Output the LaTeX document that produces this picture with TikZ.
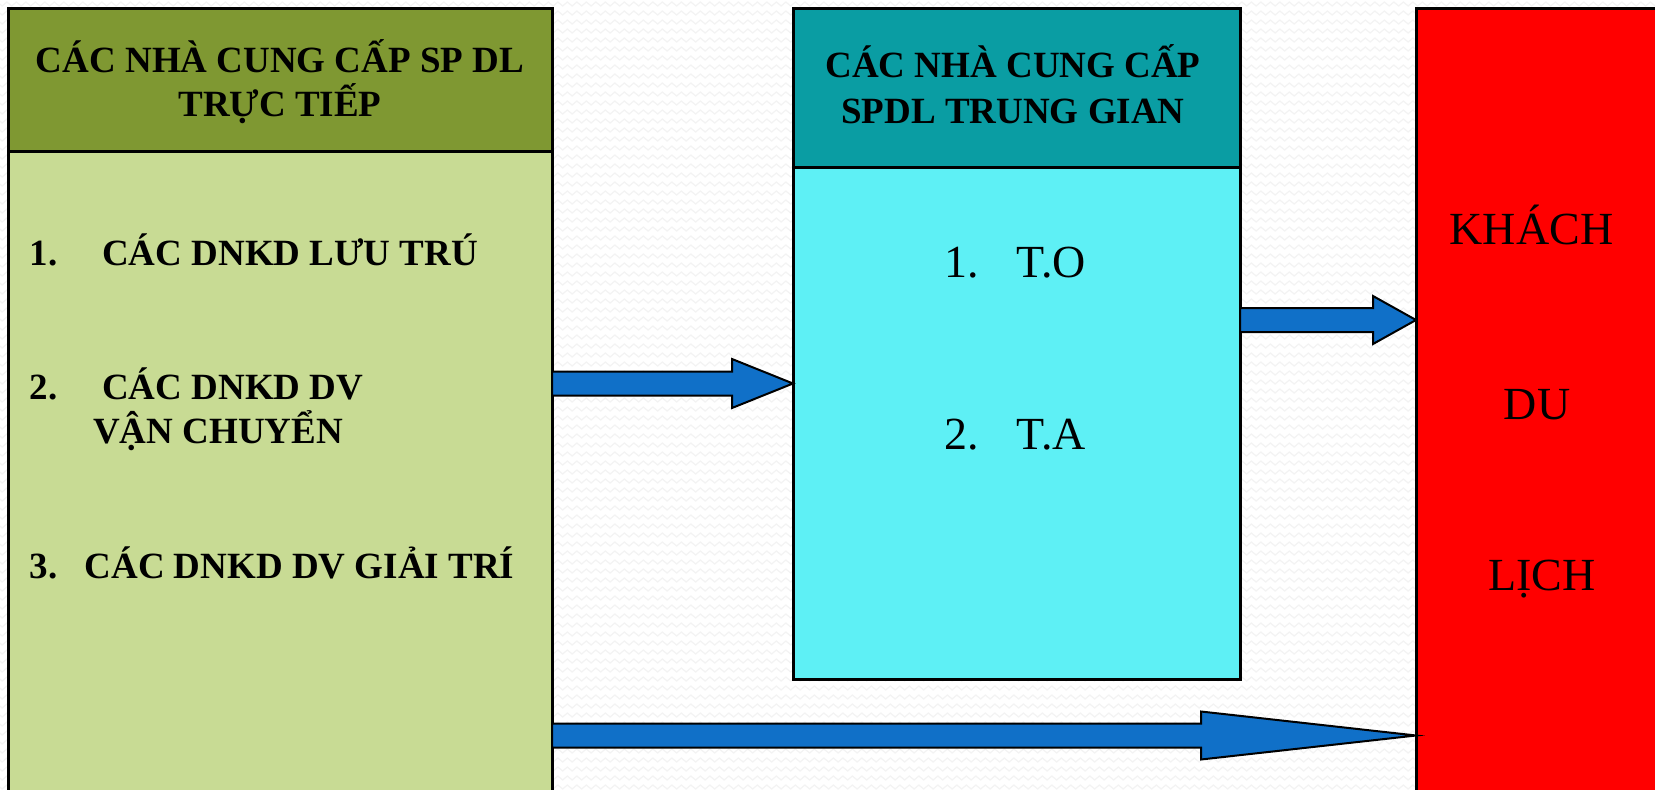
\documentclass[tikz,border=0pt]{standalone}
\usepackage{fontspec}
\setmainfont{Liberation Serif}
\usetikzlibrary{calc,decorations.pathmorphing}

\definecolor{oliveHead}{RGB}{127,152,50}
\definecolor{oliveBody}{RGB}{200,219,148}
\definecolor{tealHead}{RGB}{10,157,163}
\definecolor{cyanBody}{RGB}{94,240,245}
\definecolor{guestRed}{RGB}{255,0,0}
\definecolor{flowBlue}{RGB}{16,112,200}
\definecolor{paperLine}{RGB}{243,243,243}

\tikzset{
  box/.style={draw=black, line width=3pt, outer sep=0pt, inner sep=0pt},
  flow/.style={draw=black, line width=2pt, fill=flowBlue, line join=miter},
  paper/.style={draw=paperLine, line width=1.2pt, decorate,
    decoration={zigzag, segment length=9.5pt, amplitude=2pt}},
  headtxt/.style={font=\fontsize{37}{43}\selectfont\bfseries, inner sep=0pt, anchor=base},
  itemtxt/.style={font=\fontsize{37}{43}\selectfont\bfseries, inner sep=0pt, anchor=base west},
  bigtxt/.style={font=\fontsize{46}{54}\selectfont, inner sep=0pt},
}

% block arrow: tail anchor, tip anchor, axis y, head base x, head half-height
\newcommand\flowarrow[5]{%
  \draw[flow] (#1 |- 0,#3-12) -- (#4,#3-12) -- (#4,#3-#5) -- (#2 |- 0,#3)
    -- (#4,#3+#5) -- (#4,#3+12) -- (#1 |- 0,#3+12) -- cycle;}

\begin{document}
\begin{tikzpicture}[x=1pt,y=-1pt]
\useasboundingbox (0,0) rectangle (1655,790);
\clip (0,0) rectangle (1655,790);

% textured paper background
\fill[white] (0,0) rectangle (1655,790);
\foreach \r in {4,13,...,796}
  \draw[paper] (-5,\r) -- (1665,\r);

% direct suppliers
\node[box, fill=oliveBody, minimum width=543.6pt, minimum height=649pt] (lbody) at (280.2,475.5) {};
\node[box, fill=oliveHead, minimum width=543.6pt, minimum height=142.6pt] (lhead) at (280.2,79.7) {};

% intermediary suppliers
\node[box, fill=cyanBody, minimum width=447pt, minimum height=512pt] (mbody) at (1016.5,423) {};
\node[box, fill=tealHead, minimum width=447pt, minimum height=158.6pt] (mhead) at (1016.5,87.7) {};

% tourists
\node[box, fill=guestRed, minimum width=254pt, minimum height=791.6pt] (rbox) at (1543,404.2) {};

% flows
\flowarrow{lbody.east}{mbody.west}{383.5}{732}{24.5}
\flowarrow{mbody.east}{rbox.west}{320}{1373}{24}
\flowarrow{lbody.east}{rbox.west}{735.5}{1201}{24}

% header texts
\node[headtxt] (lh1) at (280,72) {CÁC NHÀ CUNG CẤP SP DL};
\node[headtxt] (lh2) at (280,116) {TRỰC TIẾP};
\node[headtxt] (mh1) at (1013,77.5) {CÁC NHÀ CUNG CẤP};
\node[headtxt] (mh2) at (1013,123) {SPDL TRUNG GIAN};

% direct supplier items
\node[itemtxt] (ln1) at (29.6,265) {1.};
\node[itemtxt] (lt1) at (102,265) {CÁC DNKD LƯU TRÚ};
\node[itemtxt] (ln2) at (29.6,399) {2.};
\node[itemtxt] (lt2) at (102,399) {CÁC DNKD DV};
\node[itemtxt] (lt2b) at (93,443) {VẬN CHUYỂN};
\node[itemtxt] (ln3) at (29.6,578) {3.};
\node[itemtxt] (lt3) at (84.4,578) {CÁC DNKD DV GIẢI TRÍ};

% intermediary items
\node[bigtxt, anchor=base west] (mn1) at (944.7,277) {1.};
\node[bigtxt, anchor=base west] (mt1) at (1016.5,277) {T.O};
\node[bigtxt, anchor=base west] (mn2) at (944.7,449) {2.};
\node[bigtxt, anchor=base west] (mt2) at (1016.5,449) {T.A};

% tourist label
\node[bigtxt, anchor=base] (r1) at (1531.5,244) {KHÁCH};
\node[bigtxt, anchor=base] (r2) at (1537,419) {DU};
\node[bigtxt, anchor=base] (r3) at (1542,590) {LỊCH};
\end{tikzpicture}
\end{document}
